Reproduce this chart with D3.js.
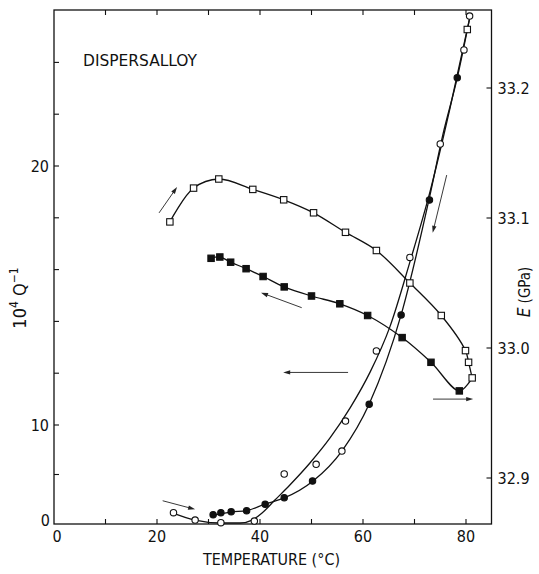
<!DOCTYPE html>
<html><head><meta charset="utf-8">
<script src="https://cdn.jsdelivr.net/npm/d3@7"></script>
<style>
html,body{margin:0;padding:0;background:#fff;}
svg text{font-family:"Liberation Sans Narrow","DejaVu Sans Condensed","Arial Narrow",sans-serif;fill:#111;}
</style></head>
<body>
<svg id="c" width="539" height="574"></svg>
<script>
// ---- data (T in °C; Q in 10^4 Q^-1; E in GPa) ----
const xTicks = [0,10,20,30,40,50,60,70,80];
const xTickLabels = [0,20,40,60,80];
const qTicks = [0,5,10,12,14,16,18,20,22,24];
const qTickLabels = [0,10,20];
const eTickLabels = [32.9,33.0,33.1,33.2];

// E, heating (open squares)
const eHeatT = [22.5,27.1,32.0,38.6,44.6,50.4,56.6,62.6,69.1,75.2,79.9,80.5,81.2];
const eHeatE = [33.097,33.123,33.130,33.122,33.114,33.104,33.089,33.075,33.050,33.025,32.998,32.989,32.977];
// E, cooling (filled squares)
const eCoolT = [30.5,32.2,34.3,37.3,40.6,44.7,50.0,55.5,60.9,67.6,73.2,78.7];
const eCoolE = [33.069,33.070,33.066,33.061,33.055,33.047,33.040,33.034,33.025,33.008,32.989,32.967];

// Q, heating (open circles)
const qHeatT = [23.2,27.4,32.4,38.9,44.7,50.9,55.9,56.6,62.6,69.1,75.0,79.6,80.7];
const qHeatQ = [1.14,0.40,0.13,0.30,5.05,6.03,7.37,10.15,12.86,16.47,20.85,24.48,25.79];
const qHeatSqT = [80.25];
const qHeatSqQ = [25.27];
// Q, cooling (filled circles)
const qCoolT = [30.9,32.4,34.4,37.4,41.0,44.7,50.2,61.2,67.4,72.9,78.3];
const qCoolQ = [0.94,1.14,1.24,1.34,1.99,2.66,4.34,10.80,14.25,18.69,23.41];

// smooth fitted curves
const qHeatFitT = [23.1,27.4,32.4,36.1,38.5,40.4,42.9,45.8,49.7,53.6,57.5,61.4,65.2,69.1,73.0,76.9,80.8];
const qHeatFitQ = [1.11,0.40,0.10,0.10,0.40,1.11,2.42,3.94,6.16,8.69,10.66,12.05,13.78,16.29,19.00,22.24,25.79];
const qCoolFitT = [30.7,34.4,37.5,41.0,44.7,50.3,55.9,61.2,67.4,72.8,75.5,78.3,80.8];
const qCoolFitQ = [0.86,1.21,1.36,2.02,2.63,4.34,7.37,10.81,14.25,18.69,21.20,23.40,25.79];

// arrows [T1,Q1,T2,Q2] (head at second point), in Q-axis units
const arrowsT1 = [20.4,48.1,57.1,73.6,76.25,21.1];
const arrowsQ1 = [18.19,14.53,12.03,11.0,19.65,2.35];
const arrowsT2 = [23.9,40.2,44.5,81.4,73.53,27.4];
const arrowsQ2 = [19.19,15.11,12.03,11.0,17.42,1.48];

// ---- layout ----
const L=54, R=491.5, T=10, B=524;
const svg = d3.select("#c");
const x = d3.scaleLinear().domain([0,85]).range([L, L+85*5.15]);
const yQ = d3.scaleLinear().domain([0,10,26]).range([B,425,10.6]);
const yE = d3.scaleLinear().domain([32.9,33.2]).range([478,88]);

const zip = (a,b)=>a.map((v,i)=>[v,b[i]]);

// frame
svg.append("rect").attr("x",L).attr("y",T).attr("width",R-L).attr("height",B-T)
  .attr("fill","none").attr("stroke","#111").attr("stroke-width",1.3);

// x ticks (inward top & bottom)
const tl = 5;
const gx = svg.append("g").attr("stroke","#111").attr("stroke-width",1.1);
xTicks.forEach(v=>{
  if (v===0) return;
  gx.append("line").attr("x1",x(v)).attr("x2",x(v)).attr("y1",B).attr("y2",B-tl);
  gx.append("line").attr("x1",x(v)).attr("x2",x(v)).attr("y1",T).attr("y2",T+tl);
});
svg.selectAll(".xl").data(xTickLabels).join("text")
  .attr("x",d=>x(d)+ (d===0?3:0)).attr("y",B+18).attr("text-anchor","middle")
  .attr("font-size",16).text(d=>d);

// left ticks
const gy = svg.append("g").attr("stroke","#111").attr("stroke-width",1.1);
qTicks.forEach(v=>{ if(v===0) return;
  gy.append("line").attr("x1",L).attr("x2",L+tl).attr("y1",yQ(v)).attr("y2",yQ(v)); });
svg.selectAll(".yl").data(qTickLabels).join("text")
  .attr("x",d=> d===0? L-4 : L-5).attr("y",d=>yQ(d)-(d===0?4:0)).attr("dy","0.36em")
  .attr("text-anchor","end").attr("font-size",16).text(d=>d);

// right ticks
eTickLabels.forEach(v=>{
  gy.append("line").attr("x1",R).attr("x2",R-tl).attr("y1",yE(v)).attr("y2",yE(v)); });
svg.selectAll(".el").data(eTickLabels).join("text")
  .attr("x",R+6).attr("y",d=>yE(d)).attr("dy","0.36em")
  .attr("text-anchor","start").attr("font-size",16).text(d=>d.toFixed(1));

// axis titles
svg.append("text").attr("x",203).attr("y",559).attr("text-anchor","start")
  .attr("font-size",16).attr("dy","0.35em")
  .attr("textLength",137).attr("lengthAdjust","spacingAndGlyphs").text("TEMPERATURE (°C)");
const ql = svg.append("text").attr("transform","translate(26,298) rotate(-90)")
  .attr("text-anchor","middle").attr("font-size",18);
ql.append("tspan").text("10");
ql.append("tspan").attr("font-size",12).attr("dy",-8).text("4");
ql.append("tspan").attr("dy",8).text(" Q");
ql.append("tspan").attr("font-size",12).attr("dy",-8).text("−1");
const el = svg.append("text").attr("transform","translate(530,292) rotate(-90)")
  .attr("text-anchor","middle").attr("font-size",15);
el.append("tspan").attr("font-style","italic").attr("font-size",17).text("E");
el.append("tspan").text(" (GPa)");

svg.append("text").attr("x",83).attr("y",61).attr("dy","0.35em").attr("font-size",15)
  .attr("textLength",114).attr("lengthAdjust","spacingAndGlyphs").text("DISPERSALLOY");

// curves
const lineE = d3.line().x(d=>x(d[0])).y(d=>yE(d[1])).curve(d3.curveCatmullRom.alpha(0.5));
const lineQ = d3.line().x(d=>x(d[0])).y(d=>yQ(d[1])).curve(d3.curveMonotoneX);
const curveStyle = p=>p.attr("fill","none").attr("stroke","#111").attr("stroke-width",1.3);

svg.append("path").attr("d",lineE(zip(eHeatT,eHeatE))).call(curveStyle);
svg.append("path").attr("d",lineE([[eHeatT[eHeatT.length-1],eHeatE[eHeatE.length-1]]].concat(zip(eCoolT,eCoolE).reverse()))).call(curveStyle);
svg.append("path").attr("d",lineQ(zip(qHeatFitT,qHeatFitQ))).call(curveStyle);
svg.append("path").attr("d",lineQ(zip(qCoolFitT,qCoolFitQ))).call(curveStyle);

// arrows
const ga = svg.append("g").attr("stroke","#222").attr("stroke-width",0.9).attr("fill","#222");
arrowsT1.forEach((t1,i)=>{
  const x1=x(t1), y1=yQ(arrowsQ1[i]), x2=x(arrowsT2[i]), y2=yQ(arrowsQ2[i]);
  const a=Math.atan2(y2-y1,x2-x1), h=7, w=2.2;
  ga.append("line").attr("x1",x1).attr("y1",y1).attr("x2",x2-Math.cos(a)*h*0.6).attr("y2",y2-Math.sin(a)*h*0.6);
  const bx=x2-Math.cos(a)*h, by=y2-Math.sin(a)*h;
  ga.append("path").attr("stroke","none")
    .attr("d",`M${x2},${y2}L${bx-Math.sin(a)*w},${by+Math.cos(a)*w}L${bx+Math.sin(a)*w},${by-Math.cos(a)*w}Z`);
});

// markers
const r=3.2, s=6.4;
const sq = (data,ys,fill)=>svg.append("g").selectAll("rect").data(data).join("rect")
  .attr("x",d=>x(d[0])-s/2).attr("y",d=>ys(d[1])-s/2).attr("width",s).attr("height",s)
  .attr("fill",fill).attr("stroke","#111").attr("stroke-width",1.1);
const ci = (data,ys,fill)=>svg.append("g").selectAll("circle").data(data).join("circle")
  .attr("cx",d=>x(d[0])).attr("cy",d=>ys(d[1])).attr("r",r)
  .attr("fill",fill).attr("stroke","#111").attr("stroke-width",1.1);

sq(zip(eHeatT,eHeatE),yE,"#fff");
sq(zip(eCoolT,eCoolE),yE,"#111");
ci(zip(qHeatT,qHeatQ),yQ,"#fff");
sq(zip(qHeatSqT,qHeatSqQ),yQ,"#fff");
ci(zip(qCoolT,qCoolQ),yQ,"#111");
</script>
</body></html>
